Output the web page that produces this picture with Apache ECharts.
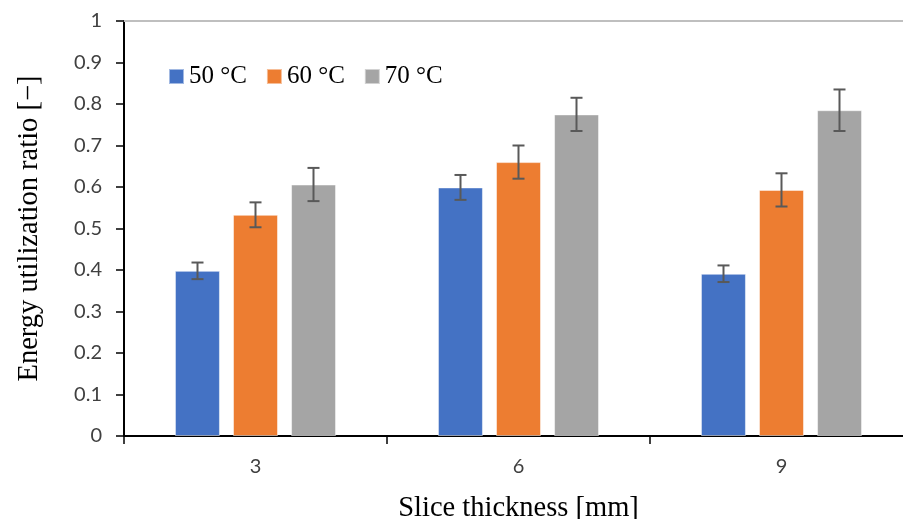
<!DOCTYPE html>
<html>
<head>
<meta charset="utf-8">
<script src="https://cdn.jsdelivr.net/npm/echarts@6/dist/echarts.min.js"></script>
<style>
html,body{margin:0;padding:0;background:#fff;overflow:hidden;}
#chart{width:903px;height:519px;}
</style>
</head>
<body>
<div id="chart"></div>
<script>
const categories = ['3', '6', '9'];
const seriesNames = ['50 °C', '60 °C', '70 °C'];
const values50 = [0.398, 0.599, 0.391];
const values60 = [0.533, 0.660, 0.593];
const values70 = [0.606, 0.775, 0.785];
const err50 = [0.02, 0.03, 0.02];
const err60 = [0.03, 0.04, 0.04];
const err70 = [0.04, 0.04, 0.05];
const colors = ['#4472C4', '#ED7D31', '#A5A5A5'];

const allValues = [values50, values60, values70];
const allErr = [err50, err60, err70];
const BAR_W = 45;
const STEP = 58;

const chart = echarts.init(document.getElementById('chart'));

const barSeries = allValues.map((vals, i) => ({
  name: seriesNames[i],
  type: 'bar',
  data: vals,
  barWidth: BAR_W,
  barGap: '29%',
  itemStyle: { color: colors[i], borderColor: 'rgba(255,255,255,0.5)', borderWidth: 1 },
  z: 2
}));

const errSeries = allValues.map((vals, i) => ({
  type: 'custom',
  name: 'err' + i,
  data: vals.map((v, k) => [k, v - allErr[i][k], v + allErr[i][k]]),
  renderItem: function (params, api) {
    const lo = api.coord([api.value(0), api.value(1)]);
    const hi = api.coord([api.value(0), api.value(2)]);
    const x = lo[0] + (i - 1) * STEP;
    const cap = 6;
    const style = { stroke: '#595959', lineWidth: 2 };
    return {
      type: 'group',
      children: [
        { type: 'line', shape: { x1: x, y1: lo[1], x2: x, y2: hi[1] }, style },
        { type: 'line', shape: { x1: x - cap, y1: hi[1], x2: x + cap, y2: hi[1] }, style },
        { type: 'line', shape: { x1: x - cap, y1: lo[1], x2: x + cap, y2: lo[1] }, style }
      ]
    };
  },
  z: 5,
  silent: true
}));

chart.setOption({
  animation: false,
  color: colors,
  grid: { left: 124, width: 789, top: 21, height: 415, containLabel: false, outerBoundsMode: 'none' },
  legend: {
    data: seriesNames,
    left: 163,
    top: 59,
    itemWidth: 15,
    itemHeight: 15,
    itemGap: 19,
    icon: 'rect',
    textStyle: { fontFamily: 'Liberation Serif', fontSize: 25, color: '#000' }
  },
  xAxis: [{
    type: 'category',
    data: categories,
    name: 'Slice thickness [mm]',
    nameLocation: 'middle',
    nameGap: 58,
    nameTextStyle: { fontFamily: 'Liberation Serif', fontSize: 28.5, color: '#000' },
    axisLine: { lineStyle: { color: '#000', width: 2 } },
    axisTick: { show: true, length: 8, lineStyle: { color: '#000', width: 1.5 } },
    axisLabel: { fontFamily: 'Lato', fontSize: 20, color: '#404040', margin: 21 }
  }, {
    type: 'category',
    data: categories,
    position: 'top',
    axisLine: { lineStyle: { color: '#BFBFBF', width: 2 } },
    axisTick: { show: false },
    axisLabel: { show: false }
  }],
  yAxis: {
    type: 'value',
    min: 0,
    max: 1,
    interval: 0.1,
    name: 'Energy utilization ratio [−]',
    nameLocation: 'middle',
    nameGap: 80,
    nameTextStyle: { fontFamily: 'Liberation Serif', fontSize: 28.5, color: '#000' },
    axisLine: { show: true, lineStyle: { color: '#000', width: 2 } },
    axisTick: { show: true, length: 8, lineStyle: { color: '#000', width: 1.5 } },
    splitLine: { show: false },
    axisLabel: {
      fontFamily: 'Lato', fontSize: 20, color: '#404040', margin: 22,
      formatter: v => String(Math.round(v * 10) / 10)
    }
  },
  series: [...barSeries, ...errSeries]
});
</script>
</body>
</html>
